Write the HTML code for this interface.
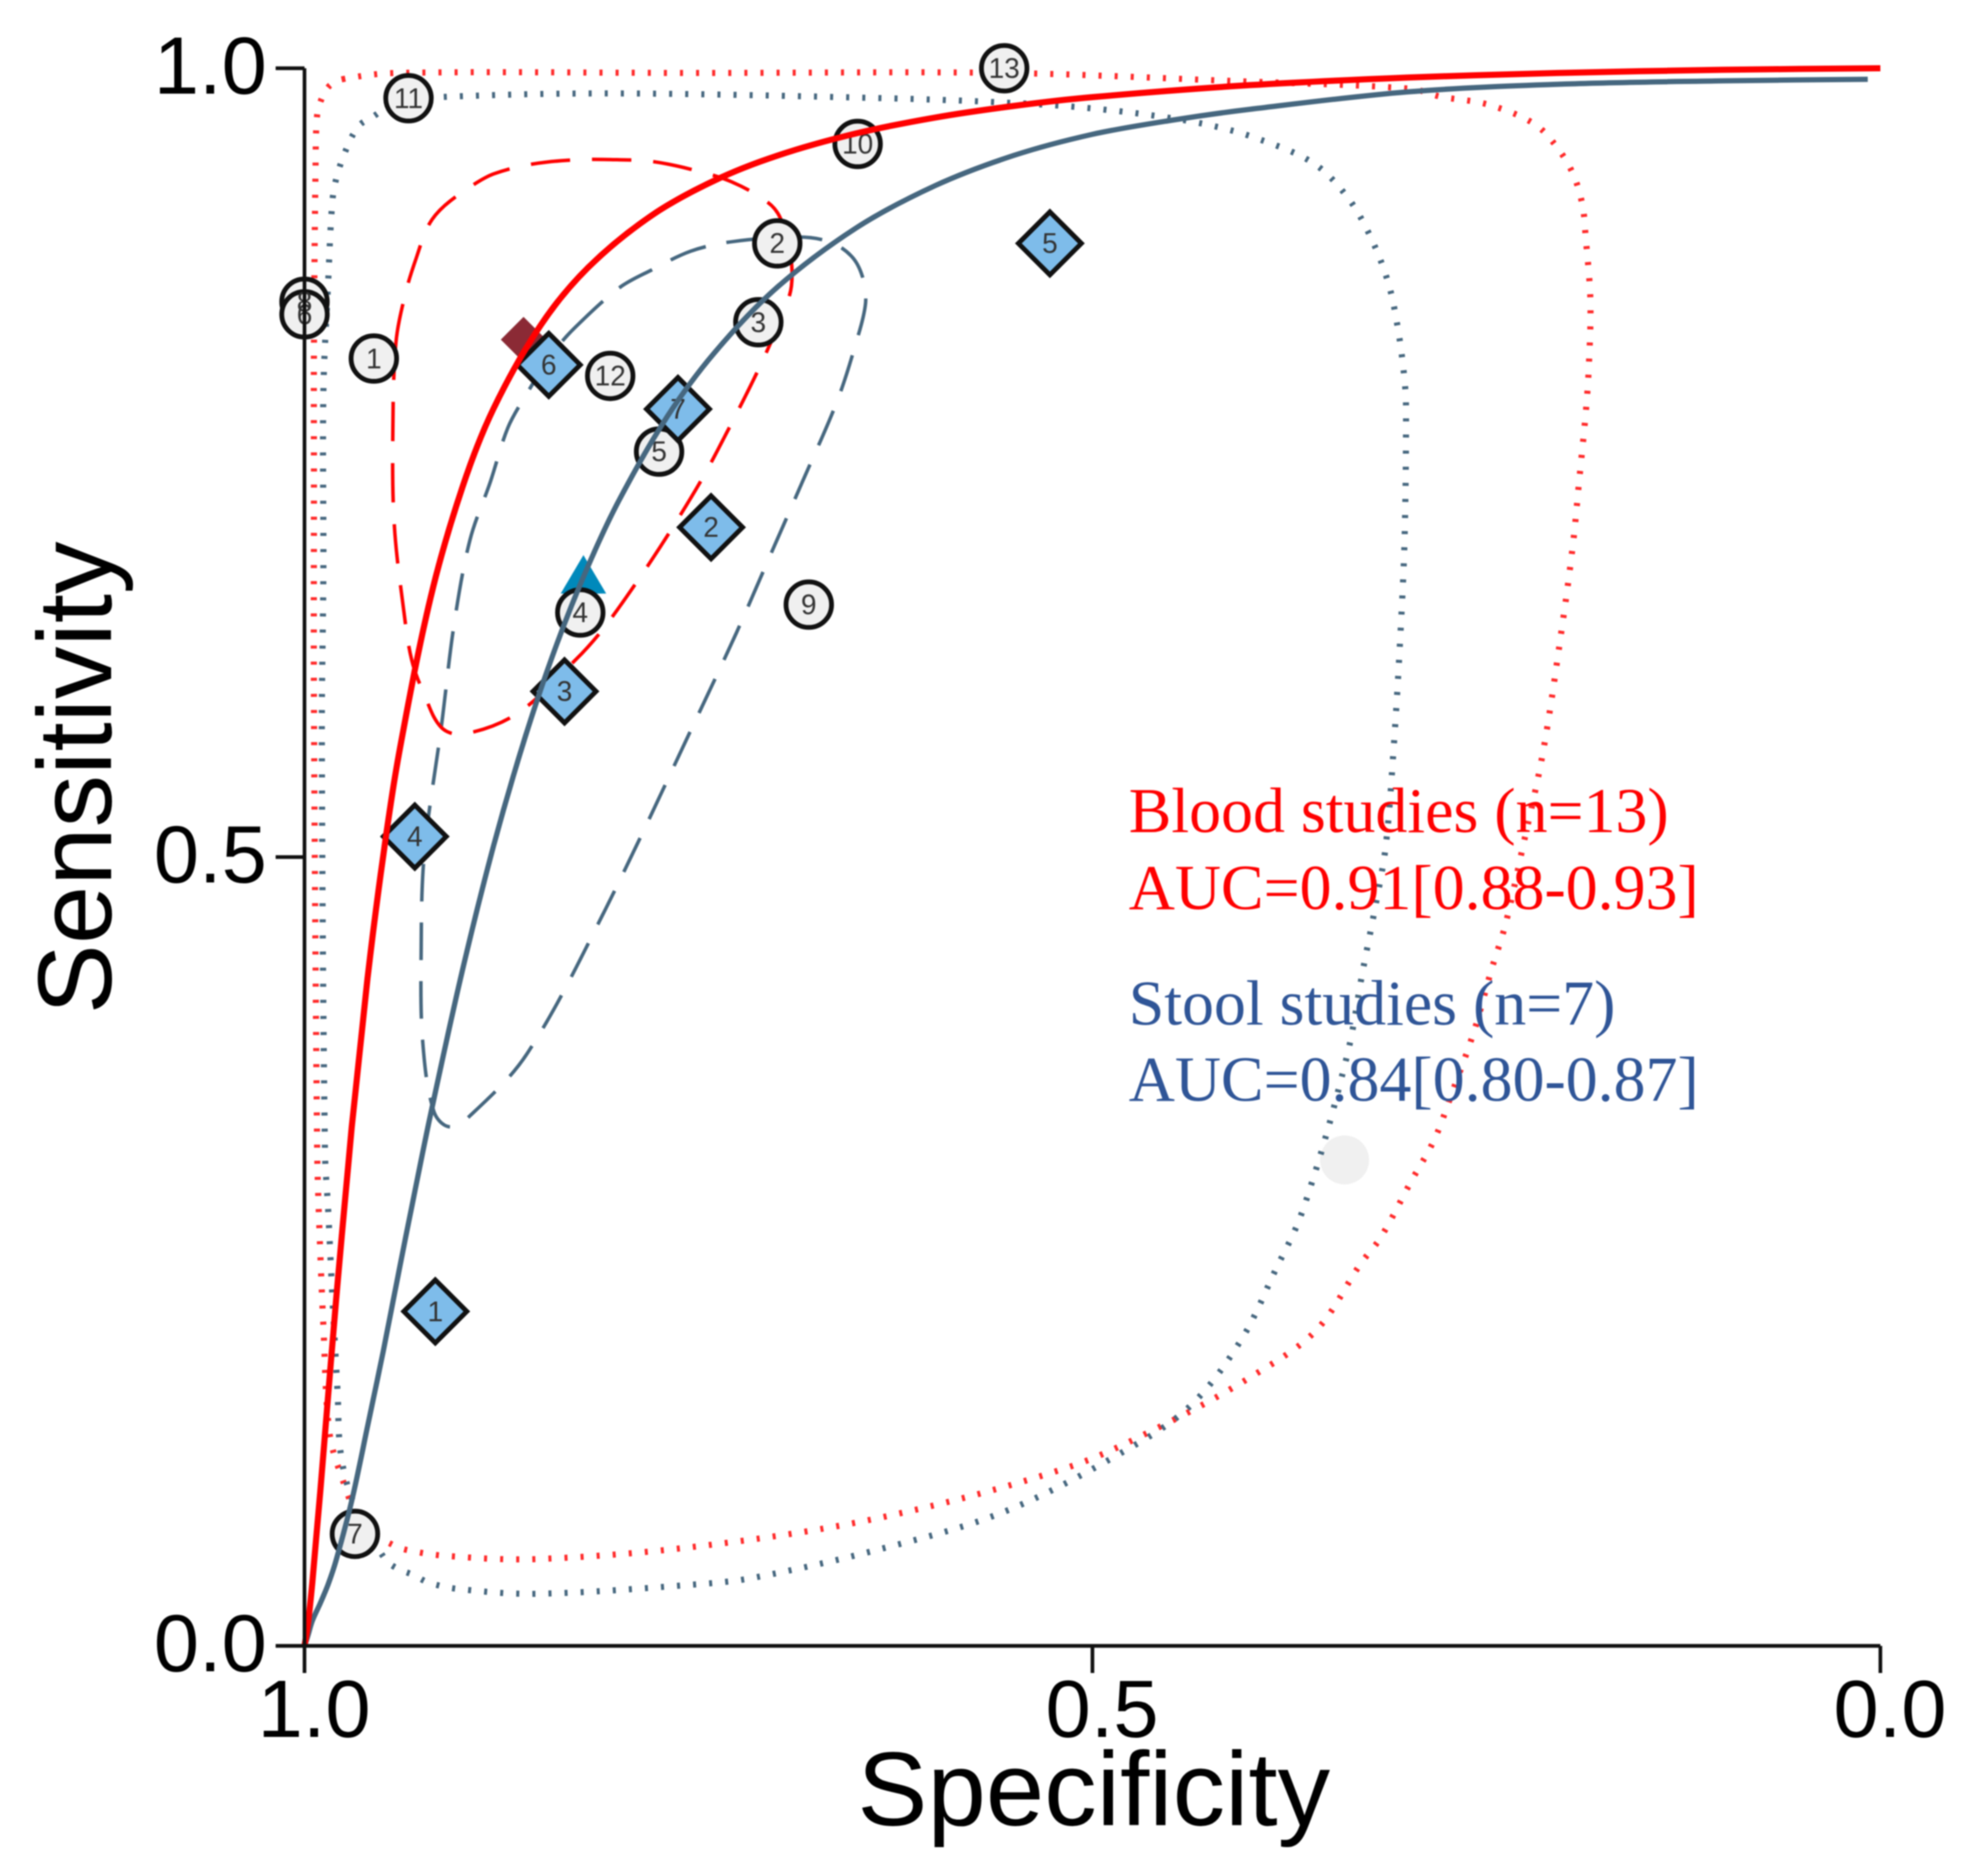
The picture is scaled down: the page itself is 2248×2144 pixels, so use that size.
<!DOCTYPE html>
<html lang="en">
<head>
<meta charset="utf-8">
<title>SROC curves: blood and stool studies</title>
<style>
html,body{margin:0;padding:0;background:#fff;}
#chart{display:block;width:2248px;height:2144px;filter:blur(0.7px);}
text{font-family:"Liberation Sans",sans-serif;}
.legend{font-family:"Liberation Serif",serif;font-size:73px;}
</style>
</head>
<body>
<svg id="chart" xmlns="http://www.w3.org/2000/svg" width="2248" height="2144" viewBox="0 0 2248 2144">
  <rect x="0" y="0" width="2248" height="2144" fill="#ffffff"/>
  <g id="gContours"></g>
  <g id="gMarkers"></g>
  <g id="gLabels"></g>
  <g id="gCurves"></g>
  <g id="gAxes"></g>
  <text x="1250" y="2086" font-size="120" text-anchor="middle" fill="#000">Specificity</text>
  <text transform="translate(127 889) rotate(-90)" font-size="120" text-anchor="middle" fill="#000">Sensitivity</text>
  <text class="legend" x="1290" y="951" fill="#ff0000">Blood studies (n=13)</text>
  <text class="legend" x="1290" y="1039" fill="#ff0000">AUC=0.91[0.88-0.93]</text>
  <text class="legend" x="1290" y="1171" fill="#2f5597">Stool studies (n=7)</text>
  <text class="legend" x="1290" y="1258" fill="#2f5597">AUC=0.84[0.80-0.87]</text>
</svg>
<script>
// Tick values
const xTicks = [1.0, 0.5, 0.0];
const yTicks = [1.0, 0.5, 0.0];
const xTickLabels = ["1.0", "0.5", "0.0"];
const yTickLabels = ["1.0", "0.5", "0.0"];

// Blood studies (study 8 is listed first so that study 6 sits on top of it)
const bloodLabels = ["8","1","2","3","4","5","6","7","9","10","11","12","13"];
const bloodSpec = [1.0,0.956,0.700,0.712,0.825,0.775,1.0,0.968,0.680,0.649,0.934,0.806,0.556];
const bloodSens = [0.852,0.816,0.889,0.839,0.655,0.757,0.844,0.071,0.660,0.952,0.981,0.805,1.0];

// Stool studies
const stoolLabels = ["1","2","3","4","5","6","7"];
const stoolSpec = [0.917,0.742,0.835,0.930,0.527,0.845,0.763];
const stoolSens = [0.212,0.709,0.605,0.513,0.889,0.812,0.784];

// Stray grey marker
const greySpec = [0.340];
const greySens = [0.308];

// Summary operating points
const bloodSummarySpec = [0.861];
const bloodSummarySens = [0.828];
const stoolSummarySpec = [0.823];
const stoolSummarySens = [0.677];

// SROC curves
const bloodCurveSpec = [1,0.998,0.995,0.990,0.985,0.980,0.970,0.960,0.950,0.940,0.920,0.900,0.880,0.850,0.820,0.780,0.740,0.700,0.650,0.600,0.550,0.500,0.400,0.300,0.200,0.100,0];
const bloodCurveSens = [0,0.0121,0.0405,0.0977,0.1587,0.2186,0.3289,0.4231,0.5013,0.5659,0.6644,0.7338,0.7843,0.8373,0.8737,0.9065,0.9288,0.9446,0.9587,0.9687,0.9761,0.9817,0.9893,0.9941,0.9971,0.9990,1.0];
const stoolCurveSpec = [1,0.998,0.995,0.990,0.985,0.980,0.970,0.960,0.950,0.940,0.930,0.920,0.900,0.880,0.860,0.840,0.820,0.800,0.770,0.740,0.700,0.650,0.600,0.550,0.500,0.450,0.400,0.300,0.200,0.100,0.008];
const stoolCurveSens = [0,0.006,0.016,0.027,0.039,0.054,0.092,0.139,0.187,0.238,0.288,0.3369,0.4273,0.5072,0.5759,0.6348,0.6846,0.7269,0.7789,0.8195,0.8612,0.8987,0.9255,0.9447,0.9581,0.967,0.974,0.985,0.990,0.992,0.993];

// Confidence contours
const bloodConfSpec = [0.942,0.936,0.929,0.921,0.911,0.893,0.880,0.857,0.828,0.800,0.780,0.755,0.729,0.706,0.698,0.692,0.691,0.697,0.712,0.729,0.747,0.767,0.788,0.811,0.828,0.865,0.899,0.913,0.924,0.932,0.937,0.943,0.944];
const bloodConfSens = [0.826,0.857,0.880,0.901,0.913,0.926,0.933,0.939,0.942,0.942,0.941,0.936,0.928,0.915,0.905,0.885,0.862,0.843,0.809,0.775,0.741,0.708,0.676,0.644,0.625,0.591,0.578,0.582,0.603,0.625,0.656,0.710,0.766];
const stoolConfSpec = [0.828,0.800,0.780,0.755,0.729,0.687,0.667,0.653,0.646,0.644,0.650,0.662,0.684,0.705,0.726,0.747,0.811,0.859,0.895,0.908,0.918,0.925,0.926,0.924,0.913,0.905,0.895,0.882,0.871,0.860,0.842];
const stoolConfSens = [0.836,0.861,0.872,0.884,0.890,0.893,0.890,0.881,0.868,0.851,0.826,0.789,0.738,0.690,0.642,0.597,0.463,0.375,0.336,0.329,0.339,0.383,0.439,0.502,0.584,0.648,0.701,0.738,0.772,0.792,0.820];

// Prediction contours
const bloodPredSpec = [0.976,0.942,0.749,0.555,0.413,0.298,0.279,0.249,0.220,0.206,0.195,0.189,0.187,0.184,0.185,0.187,0.191,0.195,0.202,0.214,0.227,0.238,0.247,0.258,0.272,0.283,0.298,0.317,0.330,0.358,0.397,0.453,0.516,0.636,0.751,0.853,0.910,0.936,0.946,0.954,0.967,0.975,0.984,0.988,0.991,0.992,0.994,0.994,0.994,0.993,0.992,0.989,0.984];
const bloodPredSens = [0.993,0.997,0.997,0.997,0.992,0.987,0.982,0.977,0.965,0.951,0.933,0.913,0.893,0.853,0.811,0.781,0.740,0.699,0.646,0.567,0.506,0.457,0.428,0.389,0.350,0.321,0.294,0.259,0.242,0.200,0.172,0.141,0.113,0.081,0.063,0.055,0.057,0.061,0.065,0.070,0.084,0.103,0.134,0.203,0.277,0.318,0.597,0.738,0.823,0.936,0.970,0.981,0.989];
const stoolPredSpec = [0.942,0.908,0.800,0.631,0.550,0.505,0.461,0.426,0.397,0.360,0.338,0.323,0.312,0.306,0.302,0.301,0.302,0.305,0.309,0.314,0.321,0.329,0.336,0.343,0.351,0.360,0.370,0.383,0.405,0.437,0.477,0.556,0.636,0.716,0.751,0.853,0.902,0.921,0.931,0.941,0.949,0.969,0.977,0.979,0.982,0.985,0.987,0.989,0.988,0.988,0.985,0.983,0.981,0.975,0.966,0.957];
const stoolPredSens = [0.978,0.982,0.984,0.981,0.978,0.975,0.970,0.964,0.956,0.940,0.918,0.892,0.863,0.834,0.803,0.783,0.699,0.633,0.567,0.506,0.466,0.425,0.385,0.356,0.326,0.296,0.267,0.240,0.195,0.153,0.125,0.085,0.061,0.043,0.039,0.033,0.036,0.040,0.045,0.049,0.055,0.091,0.122,0.161,0.215,0.277,0.313,0.577,0.682,0.795,0.864,0.906,0.925,0.945,0.963,0.969];

const SVG_NS = "http://www.w3.org/2000/svg";
function sx(spec){ return 348 + (1 - spec) * 1801; }
function sy(sens){ return 1881 - sens * 1803; }

function smoothPath(specs, senses, closed){
  const pts = specs.map((s, i) => [sx(s), sy(senses[i])]);
  const n = pts.length;
  const at = i => closed ? pts[(i + n) % n] : pts[Math.max(0, Math.min(n - 1, i))];
  const unit = (a, b) => {
    const dx = b[0] - a[0], dy = b[1] - a[1];
    const len = Math.hypot(dx, dy) || 1;
    return [dx / len, dy / len];
  };
  let d = "M" + pts[0][0].toFixed(1) + " " + pts[0][1].toFixed(1);
  const last = closed ? n : n - 1;
  for (let i = 0; i < last; i++) {
    const p0 = at(i - 1), p1 = at(i), p2 = at(i + 1), p3 = at(i + 2);
    const seg = Math.hypot(p2[0] - p1[0], p2[1] - p1[1]) / 3;
    const t1 = unit(p0, p2), t2 = unit(p1, p3);
    const c1x = p1[0] + t1[0] * seg, c1y = p1[1] + t1[1] * seg;
    const c2x = p2[0] - t2[0] * seg, c2y = p2[1] - t2[1] * seg;
    d += "C" + c1x.toFixed(1) + " " + c1y.toFixed(1) + " " + c2x.toFixed(1) + " " + c2y.toFixed(1) + " " + p2[0].toFixed(1) + " " + p2[1].toFixed(1);
  }
  return d + (closed ? "Z" : "");
}

function make(parent, tag, attrs){
  const el = document.createElementNS(SVG_NS, tag);
  Object.keys(attrs).forEach(k => el.setAttribute(k, attrs[k]));
  parent.appendChild(el);
  return el;
}

const gContours = document.getElementById("gContours");
const gMarkers = document.getElementById("gMarkers");
const gLabels = document.getElementById("gLabels");
const gCurves = document.getElementById("gCurves");
const gAxes = document.getElementById("gAxes");

// Grey stray marker
greySpec.forEach((s, i) => {
  const c = make(gContours, "circle", {cx: sx(s), cy: sy(greySens[i]), r: 28, fill: "#f0f0f0"});
  
  
});

// Contours
function drawContour(specs, senses, color, width, dash, name){
  const p = make(gContours, "path", {d: smoothPath(specs, senses, true), fill: "none", stroke: color, "stroke-width": width, "stroke-dasharray": dash});
  
  
}
drawContour(bloodPredSpec, bloodPredSens, "#ff2a2a", 7, "3.5 14.9", "blood-prediction-contour");
drawContour(stoolPredSpec, stoolPredSens, "#46677f", 7, "3.5 14.9", "stool-prediction-contour");
drawContour(stoolConfSpec, stoolConfSens, "#46677f", 4, "43 24", "stool-confidence-contour");
drawContour(bloodConfSpec, bloodConfSens, "#ff0000", 4, "45 25", "blood-confidence-contour");

// Marker label
function drawLabel(x, y, txt){
  const t = make(gLabels, "text", {x: x, y: y + 11, "font-size": 32, "text-anchor": "middle", fill: "#333333"});
  t.textContent = txt;
  
  
}

// Blood summary diamond
bloodSummarySpec.forEach((s, i) => {
  const x = sx(s), y = sy(bloodSummarySens[i]);
  const p = make(gMarkers, "path", {d: `M${x} ${y - 26}L${x + 26} ${y}L${x} ${y + 26}L${x - 26} ${y}Z`, fill: "#8b2a35"});
  
  
});

// Stool summary triangle
stoolSummarySpec.forEach((s, i) => {
  const x = sx(s), y = sy(stoolSummarySens[i]);
  const p = make(gMarkers, "path", {d: `M${x} ${y - 26}L${x + 26} ${y + 18}L${x - 26} ${y + 18}Z`, fill: "#0089bb"});
  
  
});

// Blood circles
bloodSpec.forEach((s, i) => {
  const x = sx(s), y = sy(bloodSens[i]);
  const c = make(gMarkers, "circle", {cx: x, cy: y, r: 26, fill: "#f0f0f0", stroke: "#111111", "stroke-width": 5.5});
  
  
  drawLabel(x, y, bloodLabels[i]);
});

// Stool diamonds
stoolSpec.forEach((s, i) => {
  const x = sx(s), y = sy(stoolSens[i]);
  const p = make(gMarkers, "path", {d: `M${x} ${y - 36}L${x + 36} ${y}L${x} ${y + 36}L${x - 36} ${y}Z`, fill: "#7ebcea", stroke: "#111111", "stroke-width": 5.5, "stroke-linejoin": "miter"});
  
  
  drawLabel(x, y, stoolLabels[i]);
});

// SROC curves
const stoolCurve = make(gCurves, "path", {d: smoothPath(stoolCurveSpec, stoolCurveSens, false), fill: "none", stroke: "#46677f", "stroke-width": 6, "stroke-linecap": "butt"});


const bloodCurve = make(gCurves, "path", {d: smoothPath(bloodCurveSpec, bloodCurveSens, false), fill: "none", stroke: "#ff0000", "stroke-width": 7, "stroke-linecap": "butt"});



// Axes
const yAxisLine = make(gAxes, "line", {x1: sx(1), y1: sy(1), x2: sx(1), y2: sy(0), stroke: "#111", "stroke-width": 4.2});


const xAxisLine = make(gAxes, "line", {x1: sx(1), y1: sy(0), x2: sx(0), y2: sy(0), stroke: "#111", "stroke-width": 4.2});



xTicks.forEach((v, i) => {
  const l = make(gAxes, "line", {x1: sx(v), y1: sy(0), x2: sx(v), y2: sy(0) + 31, stroke: "#111", "stroke-width": 4.2});
  
  
  const t = make(gAxes, "text", {x: sx(v) + 11, y: 1985, "font-size": 93, "text-anchor": "middle", fill: "#000"});
  t.textContent = xTickLabels[i];
  
  
});
yTicks.forEach((v, i) => {
  const l = make(gAxes, "line", {x1: sx(1) - 33, y1: sy(v), x2: sx(1), y2: sy(v), stroke: "#111", "stroke-width": 4.2});
  
  
  const t = make(gAxes, "text", {x: 305, y: sy(v) + 29, "font-size": 93, "text-anchor": "end", fill: "#000"});
  t.textContent = yTickLabels[i];
  
  
});
</script>
</body>
</html>
